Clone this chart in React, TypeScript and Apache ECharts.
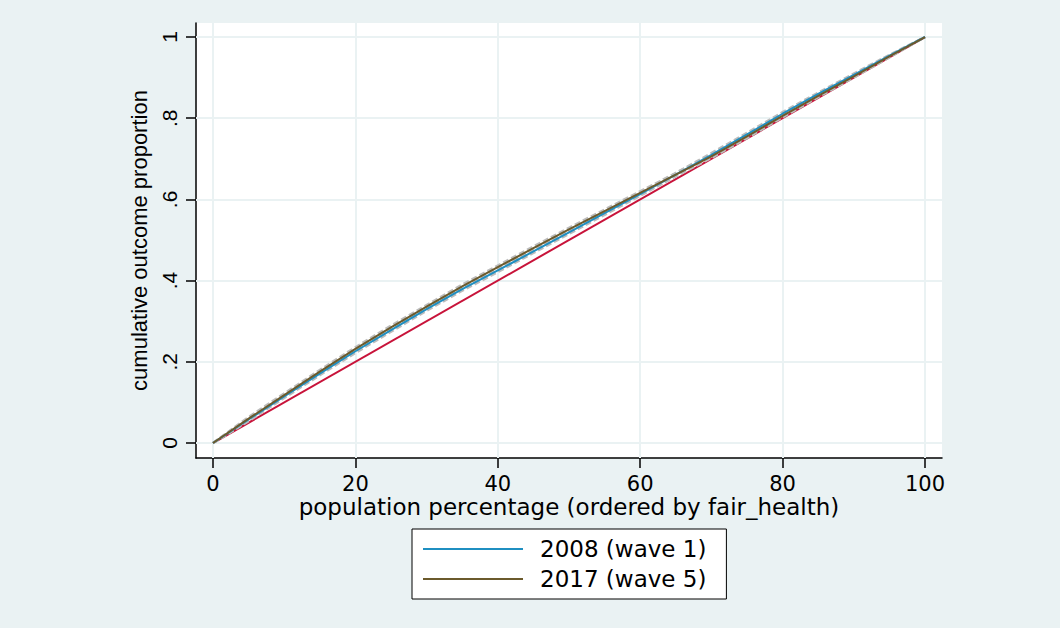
import React, { useEffect, useRef } from "react";
import * as echarts from "echarts";

const xPct = [0, 5, 10, 15, 20, 25, 30, 35, 40, 45, 50, 55, 60, 65, 70, 75, 80, 85, 90, 95, 100];
const wave1 = [0, 0.058, 0.115, 0.171, 0.226, 0.278, 0.33, 0.379, 0.425, 0.472, 0.519, 0.566, 0.613, 0.661, 0.71, 0.76, 0.811, 0.86, 0.907, 0.954, 1];
const wave5 = [0, 0.06, 0.118, 0.176, 0.232, 0.285, 0.336, 0.386, 0.433, 0.48, 0.526, 0.571, 0.616, 0.661, 0.706, 0.755, 0.806, 0.855, 0.903, 0.952, 1];
const wave1Lo = [0, 0.054, 0.111, 0.167, 0.222, 0.274, 0.326, 0.375, 0.421, 0.468, 0.515, 0.562, 0.609, 0.657, 0.706, 0.756, 0.807, 0.857, 0.904, 0.952, 1];
const wave1Hi = [0, 0.062, 0.119, 0.175, 0.23, 0.282, 0.334, 0.383, 0.429, 0.476, 0.523, 0.57, 0.617, 0.665, 0.714, 0.764, 0.815, 0.863, 0.91, 0.956, 1];
const wave5Lo = [0, 0.056, 0.114, 0.172, 0.228, 0.281, 0.332, 0.382, 0.429, 0.476, 0.522, 0.567, 0.612, 0.657, 0.702, 0.751, 0.802, 0.852, 0.9, 0.95, 1];
const wave5Hi = [0, 0.064, 0.122, 0.18, 0.236, 0.289, 0.34, 0.39, 0.437, 0.484, 0.53, 0.575, 0.62, 0.665, 0.71, 0.759, 0.81, 0.858, 0.906, 0.954, 1];
const equalityX = [0, 100];
const equalityY = [0, 1];
const xTicks = [0, 20, 40, 60, 80, 100];
const yTicks = [0, 0.2, 0.4, 0.6, 0.8, 1];
const yTickLabels = ["0", ".2", ".4", ".6", ".8", "1"];
const seriesNames = ["2008 (wave 1)", "2017 (wave 5)"];

const BLUE = "#1f8fc1";
const BROWN = "#6b5a2c";
const RED = "#c8133a";
const BAND = "#bcbcbc";
const BG = "#eaf2f3";

const pairs = (ys: number[]) => xPct.map((x, i) => [x, ys[i]]);

export default function App() {
  const ref = useRef<HTMLDivElement>(null);
  useEffect(() => {
    if (!ref.current) return;
    const chart = echarts.init(ref.current, null, { renderer: "svg" });
    const bandStyle = { color: BAND, width: 2.5, type: [6, 3] as any };
    chart.setOption({
      animation: false,
      backgroundColor: BG,
      grid: {
        left: 196,
        top: 23,
        width: 746,
        height: 435,
        show: true,
        backgroundColor: "#ffffff",
        borderWidth: 0,
      },
      xAxis: {
        type: "value",
        min: -2.388,
        max: 102.388,
        name: "population percentage (ordered by fair_health)",
        nameLocation: "middle",
        nameGap: 37,
        nameMoveOverlap: false,
        nameTextStyle: { fontFamily: "DejaVu Sans", fontSize: 23, color: "#000" },
        axisLine: { show: true, onZero: false, lineStyle: { color: "#000", width: 1.5 } },
        axisTick: { show: true, length: 10, customValues: xTicks, lineStyle: { color: "#000", width: 1.5 } },
        axisLabel: {
          customValues: xTicks,
          margin: 15,
          fontFamily: "DejaVu Sans",
          fontSize: 21,
          color: "#000",
        },
        splitLine: { show: false },
      },
      yAxis: {
        type: "value",
        min: -0.0369,
        max: 1.0345,
        name: "cumulative outcome proportion",
        nameLocation: "middle",
        nameGap: 46,
        nameTextStyle: { fontFamily: "Liberation Sans", fontSize: 22, color: "#000" },
        axisLine: { show: true, onZero: false, lineStyle: { color: "#000", width: 1.5 } },
        axisTick: { show: true, length: 10, customValues: yTicks, lineStyle: { color: "#000", width: 1.5 } },
        axisLabel: {
          customValues: yTicks,
          rotate: 90,
          margin: 16,
          fontFamily: "Liberation Sans",
          fontSize: 21,
          color: "#000",
          formatter: (v: number) => {
            const i = yTicks.findIndex((t) => Math.abs(t - v) < 1e-6);
            return i >= 0 ? yTickLabels[i] : "";
          },
        },
        splitLine: { show: false },
      },
      legend: {
        data: seriesNames,
        orient: "vertical",
        left: 412,
        top: 529,
        backgroundColor: "#ffffff",
        borderColor: "#000",
        borderWidth: 1,
        borderRadius: 0,
        padding: [7, 20, 7, 11],
        itemGap: 4,
        itemWidth: 100,
        itemHeight: 2,
        icon: "rect",
        textStyle: {
          fontFamily: "DejaVu Sans",
          fontSize: 23,
          color: "#000",
          lineHeight: 26,
          padding: [0, 0, 0, 12],
        },
      },
      series: [
        {
          name: "grid",
          type: "line",
          data: [],
          z: 1,
          silent: true,
          markLine: {
            silent: true,
            z: 1,
            zlevel: 0,
            symbol: "none",
            label: { show: false },
            lineStyle: { color: BG, width: 2, type: "solid" },
            data: [
              ...xTicks.map((v) => ({ xAxis: v })),
              ...yTicks.map((v) => ({ yAxis: v })),
            ],
          },
        },
        {
          name: "equality",
          type: "line",
          data: equalityX.map((x, i) => [x, equalityY[i]]),
          showSymbol: false,
          lineStyle: { color: RED, width: 2 },
          z: 6,
        },
        { name: "w1lo", type: "line", data: pairs(wave1Lo), showSymbol: false, lineStyle: bandStyle, z: 7 },
        { name: "w1hi", type: "line", data: pairs(wave1Hi), showSymbol: false, lineStyle: bandStyle, z: 7 },
        { name: "w5lo", type: "line", data: pairs(wave5Lo), showSymbol: false, lineStyle: bandStyle, z: 7 },
        { name: "w5hi", type: "line", data: pairs(wave5Hi), showSymbol: false, lineStyle: bandStyle, z: 7 },
        {
          name: seriesNames[0],
          type: "line",
          data: pairs(wave1),
          showSymbol: false,
          itemStyle: { color: BLUE },
          lineStyle: { color: BLUE, width: 2 },
          z: 8,
        },
        {
          name: seriesNames[1],
          type: "line",
          data: pairs(wave5),
          showSymbol: false,
          itemStyle: { color: BROWN },
          lineStyle: { color: BROWN, width: 2 },
          z: 9,
        },
      ],
    });
    return () => chart.dispose();
  }, []);
  return (
    <div
      ref={ref}
      style={{ position: "absolute", left: 0, top: 0, width: 1060, height: 628 }}
    />
  );
}
